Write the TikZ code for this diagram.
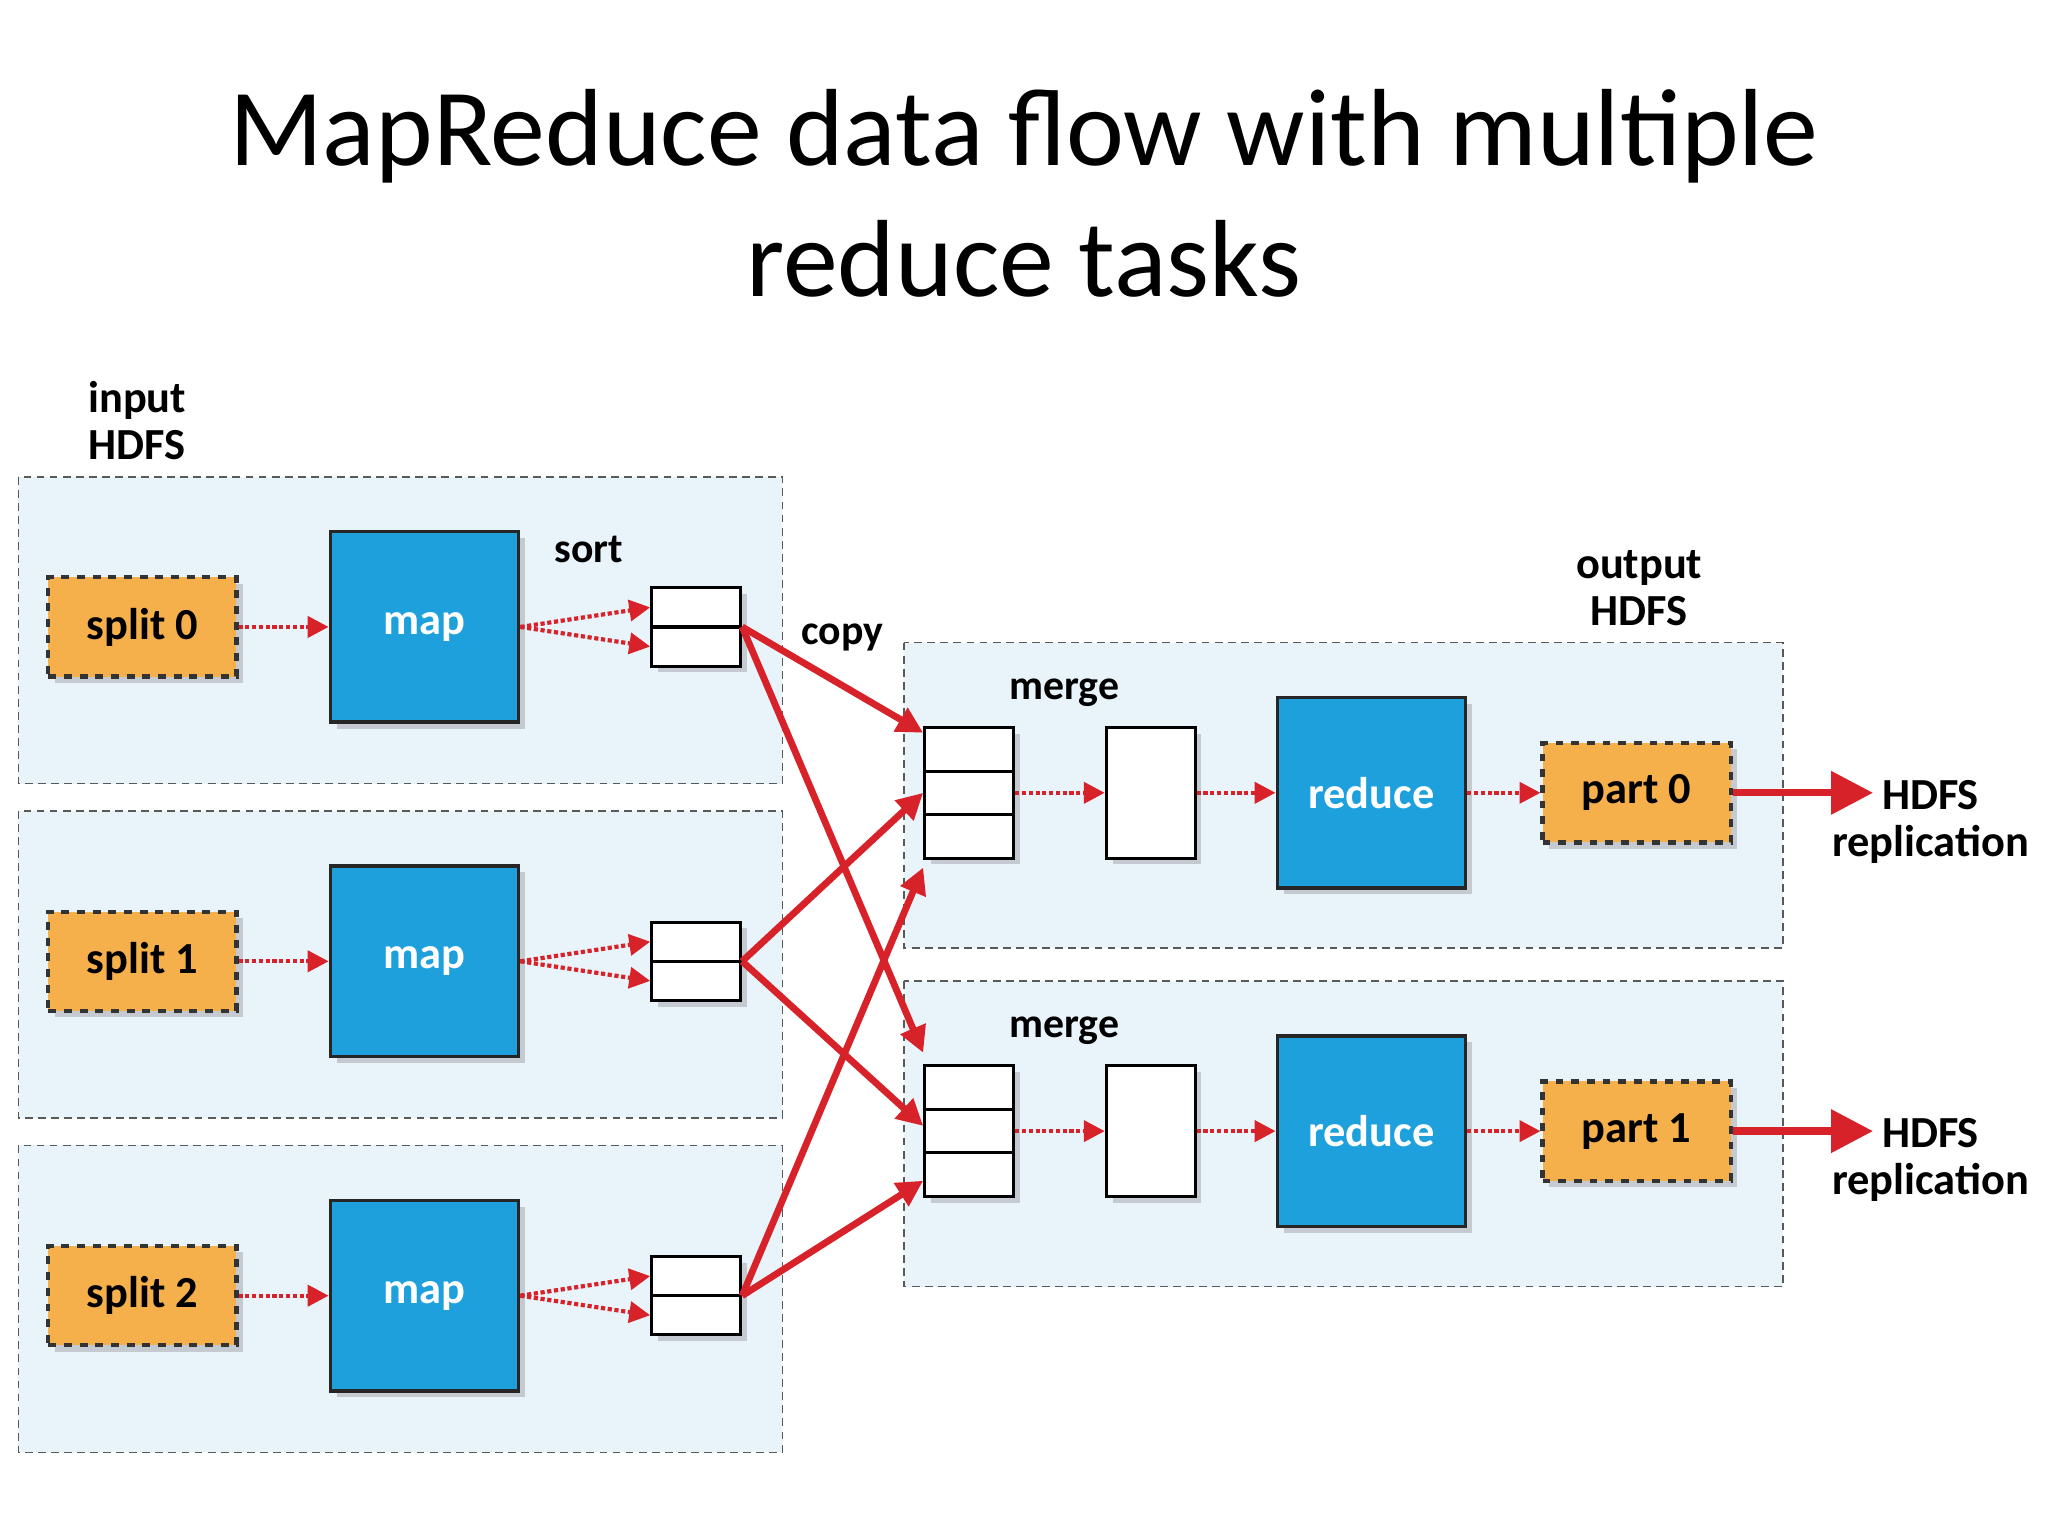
\documentclass[tikz,border=0pt]{standalone}
\usepackage{fontspec}
\setmainfont{Carlito}
\usetikzlibrary{shadows,arrows.meta}
\definecolor{rd}{HTML}{D7222A}
\definecolor{bl}{HTML}{1EA0DC}
\definecolor{og}{HTML}{F5B04B}
\definecolor{pn}{HTML}{E9F3FA}
\begin{document}
\begin{tikzpicture}[x=0.5pt,y=-0.5pt,
 panel/.style={draw=gray!70!black,densely dashed,fill=pn,line width=0.6pt},
 split/.style={draw=black!80,dashed,line width=1.6pt,fill=og,minimum width=72pt,minimum height=38pt,font=\fontsize{17}{17}\selectfont\bfseries,drop shadow={opacity=0.35}},
 blue/.style={draw=black!85,line width=1.4pt,fill=bl,text=white,minimum width=72pt,minimum height=73pt,font=\fontsize{17}{17}\selectfont\bfseries,drop shadow={opacity=0.35}},
 buf/.style={draw=black,line width=1.2pt,fill=white,minimum width=34pt,minimum height=#1,inner sep=0pt,drop shadow={opacity=0.35}},
 lab/.style={font=\fontsize{16}{16}\selectfont\bfseries,align=center},
 dot/.style={-{Triangle[length=8pt,width=8pt]},rd,line width=1.6pt,densely dotted},
 cp/.style={-{Triangle[length=10pt,width=10pt]},rd,line width=2.6pt},
]
\useasboundingbox (0,0) rectangle (1568,1176);
\node[font=\fontsize{42}{50}\selectfont,align=center] (title) at (784,148) {MapReduce data flow with multiple\\reduce tasks};
\node[lab,font=\fontsize{17}{18}\selectfont\bfseries] (inlab) at (105,322) {input\\HDFS};
\node[lab,font=\fontsize{17}{18}\selectfont\bfseries] (outlab) at (1255,450) {output\\HDFS};
\foreach \i/\y in {0/480,1/736,2/992}{
 \draw[panel] (14,\y-115) rectangle (599,\y+120);
 \node[split] (s\i) at (109,\y) {split \i};
 \node[blue] (m\i) at (325,\y) {map};
 \node[buf=30pt] (b\i) at (533,\y) {};
 \draw[line width=1.2pt] (b\i.west) -- (b\i.east);
 \draw[dot] (s\i) -- (m\i);
 \draw[dot] (m\i.east) -- ([yshift=-7.5pt]b\i.west);
 \draw[dot] (m\i.east) -- ([yshift=7.5pt]b\i.west);
}
\node[lab] (sortlab) at (451,421) {sort};
\node[lab] (copylab) at (645,488) {copy};
\foreach \j/\y in {0/607,1/866}{
 \draw[panel] (692,\y-115) rectangle (1365,\y+119);
 \node[lab] (mg\j) at (815,\y-77) {merge};
 \node[buf=50pt] (r\j) at (742,\y) {};
 \draw[line width=1.2pt] ([yshift=-8.3pt]r\j.west) -- ([yshift=-8.3pt]r\j.east);
 \draw[line width=1.2pt] ([yshift=8.3pt]r\j.west) -- ([yshift=8.3pt]r\j.east);
 \node[buf=50pt] (w\j) at (881,\y) {};
 \node[blue] (rd\j) at (1050,\y) {reduce};
 \node[split] (p\j) at (1253,\y) {part \j};
 \node[lab,font=\fontsize{17}{18}\selectfont\bfseries] (h\j) at (1478,\y+22) {HDFS\\replication};
 \coordinate (t\j) at (1434,\y);
 \draw[dot] (r\j) -- (w\j);
 \draw[dot] (w\j) -- (rd\j);
 \draw[dot] (rd\j) -- (p\j);
 \draw[cp,-{Triangle[length=16pt,width=16pt]},line width=2.8pt] (p\j) -- (t\j);
}
\draw[cp] (b0.east) -- ([yshift=23pt]r0.west);
\draw[cp] (b0.east) -- ([yshift=30pt]r1.west);
\draw[cp] (b1.east) -- ([yshift=0pt]r0.west);
\draw[cp] (b1.east) -- ([yshift=2pt]r1.west);
\draw[cp] (b2.east) -- ([yshift=-3pt]r0.south west);
\draw[cp] (b2.east) -- ([yshift=-19pt]r1.west);
\end{tikzpicture}
\end{document}
